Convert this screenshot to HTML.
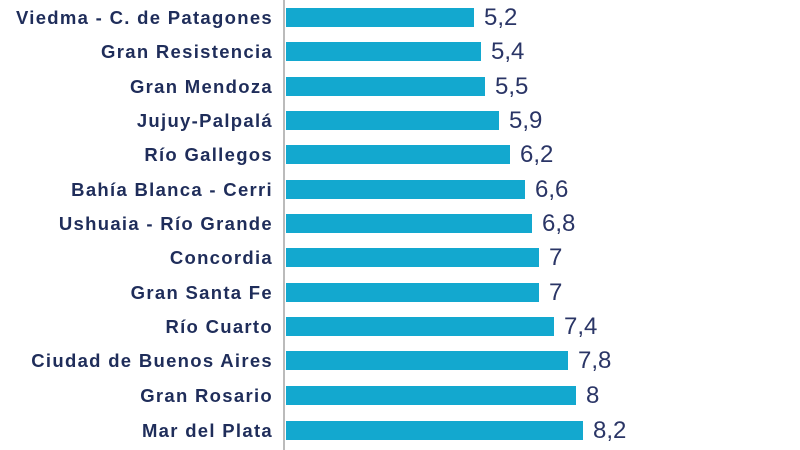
<!DOCTYPE html>
<html><head><meta charset="utf-8"><style>
body{margin:0;width:800px;height:450px;background:#fff;overflow:hidden;position:relative;font-family:"Liberation Sans",sans-serif}
.ax{position:absolute;left:283px;top:0;width:2px;height:450px;background:#bbb}
.r{position:absolute;left:0;width:800px;height:20px}
.l{position:absolute;right:527px;top:0;line-height:20px;font-size:18.5px;letter-spacing:1.3px;font-weight:bold;color:#1f2d5a;white-space:nowrap}
.b{position:absolute;left:286px;top:0;height:19px;background:#13a8cf}
.v{position:absolute;top:-4px;font-size:24px;color:#2a3566;line-height:28px}
</style></head><body>
<div class="ax"></div>
<div class="r" style="top:8px"><div class="l">Viedma - C. de Patagones</div><div class="b" style="width:188px"></div><div class="v" style="left:484px">5,2</div></div>
<div class="r" style="top:42px"><div class="l">Gran Resistencia</div><div class="b" style="width:195px"></div><div class="v" style="left:491px">5,4</div></div>
<div class="r" style="top:77px"><div class="l">Gran Mendoza</div><div class="b" style="width:199px"></div><div class="v" style="left:495px">5,5</div></div>
<div class="r" style="top:111px"><div class="l">Jujuy-Palpalá</div><div class="b" style="width:213px"></div><div class="v" style="left:509px">5,9</div></div>
<div class="r" style="top:145px"><div class="l">Río Gallegos</div><div class="b" style="width:224px"></div><div class="v" style="left:520px">6,2</div></div>
<div class="r" style="top:180px"><div class="l">Bahía Blanca - Cerri</div><div class="b" style="width:239px"></div><div class="v" style="left:535px">6,6</div></div>
<div class="r" style="top:214px"><div class="l">Ushuaia - Río Grande</div><div class="b" style="width:246px"></div><div class="v" style="left:542px">6,8</div></div>
<div class="r" style="top:248px"><div class="l">Concordia</div><div class="b" style="width:253px"></div><div class="v" style="left:549px">7</div></div>
<div class="r" style="top:283px"><div class="l">Gran Santa Fe</div><div class="b" style="width:253px"></div><div class="v" style="left:549px">7</div></div>
<div class="r" style="top:317px"><div class="l">Río Cuarto</div><div class="b" style="width:268px"></div><div class="v" style="left:564px">7,4</div></div>
<div class="r" style="top:351px"><div class="l">Ciudad de Buenos Aires</div><div class="b" style="width:282px"></div><div class="v" style="left:578px">7,8</div></div>
<div class="r" style="top:386px"><div class="l">Gran Rosario</div><div class="b" style="width:290px"></div><div class="v" style="left:586px">8</div></div>
<div class="r" style="top:421px"><div class="l">Mar del Plata</div><div class="b" style="width:297px"></div><div class="v" style="left:593px">8,2</div></div>
</body></html>
